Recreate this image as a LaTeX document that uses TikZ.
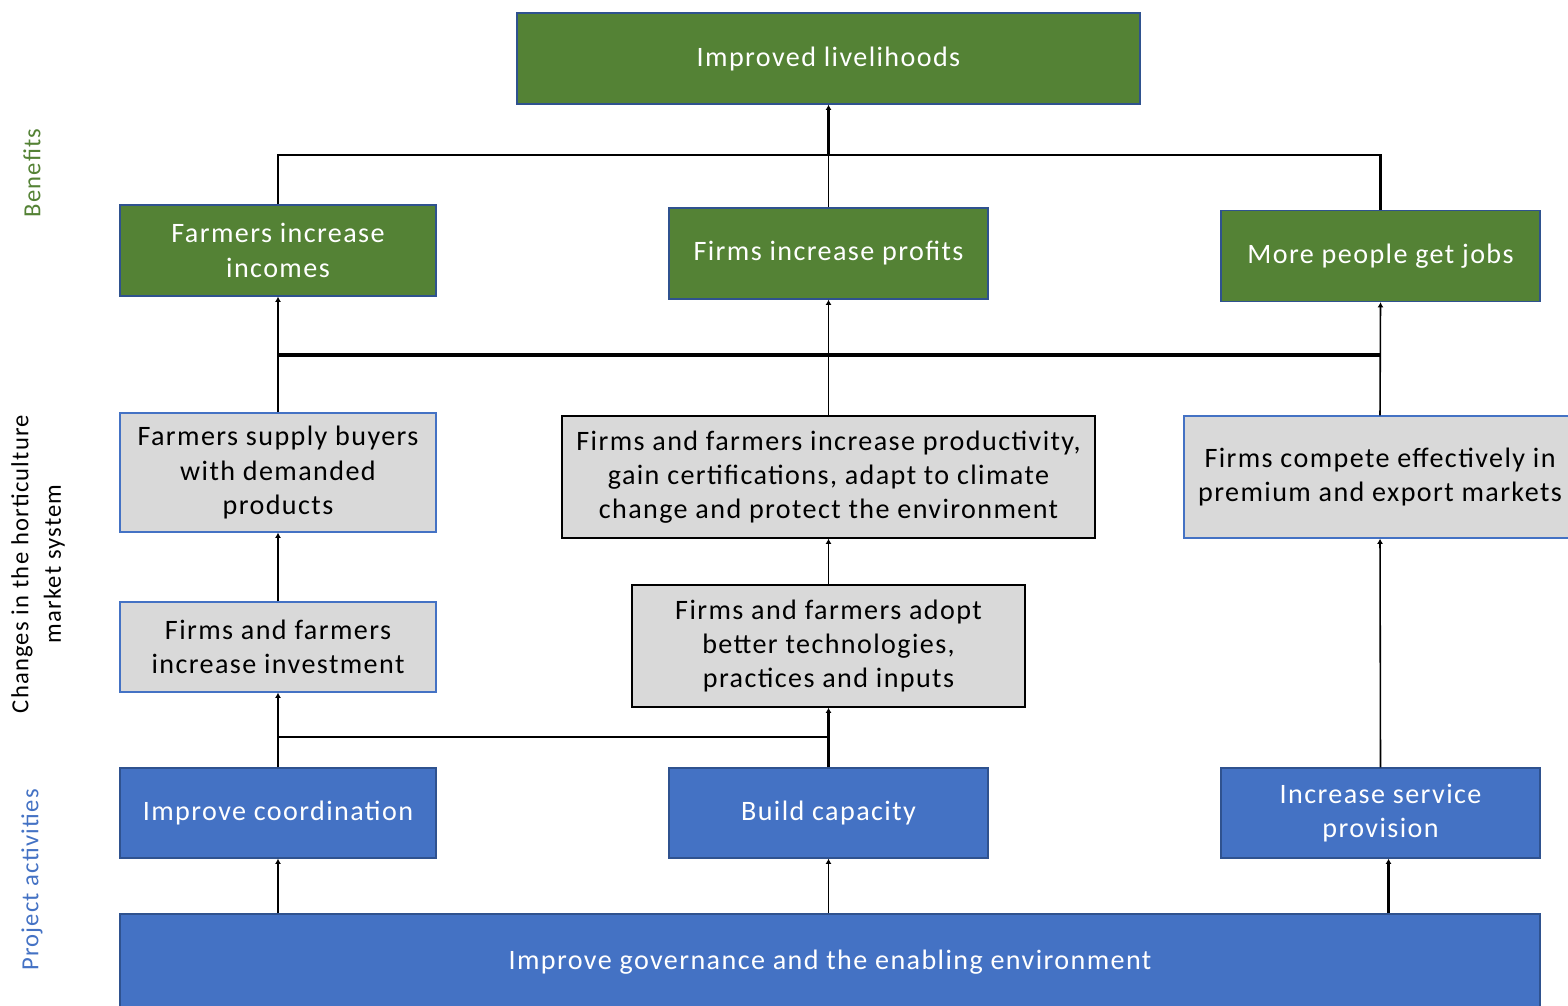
\documentclass[tikz,border=0pt]{standalone}
\usepackage{fontspec}
\setmainfont{Carlito}[LetterSpace=5]
\usepackage{xcolor}
\usetikzlibrary{arrows.meta}

\definecolor{leafgreen}{HTML}{548235}
\definecolor{officeblue}{HTML}{4472C4}
\definecolor{darkblue}{HTML}{2F528F}
\definecolor{lightgray}{HTML}{D9D9D9}

\begin{document}
\begin{tikzpicture}[x=0.02cm, y=-0.02cm,
	every node/.style = {shape=rectangle, align=center, font=\fontsize{16}{19.5}\selectfont, inner sep=2pt},
	benefit/.style = {draw=darkblue, fill=leafgreen, text=white, line width=0.8pt, minimum height=1.82cm},
	change/.style = {draw=officeblue, fill=lightgray, text=black, line width=0.8pt},
	activity/.style = {draw=darkblue, fill=officeblue, text=white, line width=0.8pt, minimum height=1.8cm},
	sidelabel/.style = {rotate=90, draw=none, fill=none, font=\fontsize{14}{18.5}\selectfont},
	link/.style = {draw=black, line width=0.9pt},
	arrow/.style = {link, -{Latex[length=3pt,width=3.5pt]}}]
		\useasboundingbox (0,0) rectangle (1568,1005);

		% benefits
		\node[benefit, minimum width=12.46cm] (livelihoods) at (828.5,58.5) {Improved livelihoods};
		\node[benefit, minimum width=6.32cm] (incomes) at (278,250.5) {Farmers increase\\incomes};
		\node[benefit, minimum width=6.38cm] (profits) at (828.5,253.5) {Firms increase profits};
		\node[benefit, minimum width=6.38cm] (jobs) at (1380.5,256) {More people get jobs};

		% changes in the market system
		\node[change, minimum width=6.32cm, minimum height=2.38cm] (supply) at (278,472.5) {Farmers supply buyers\\with demanded\\products};
		\node[change, draw=black, minimum width=10.66cm, minimum height=2.44cm] (productivity) at (828.5,477) {Firms and farmers increase productivity,\\gain certifications, adapt to climate\\change and protect the environment};
		\node[change, minimum width=7.84cm, minimum height=2.44cm] (compete) at (1380,477) {Firms compete effectively in\\premium and export markets};
		\node[change, minimum width=6.32cm, minimum height=1.8cm] (investment) at (278,647) {Firms and farmers\\increase investment};
		\node[change, draw=black, minimum width=7.86cm, minimum height=2.44cm] (adopt) at (828.5,646) {Firms and farmers adopt\\better technologies,\\practices and inputs};

		% project activities
		\node[activity, minimum width=6.32cm] (coordination) at (278,813) {Improve coordination};
		\node[activity, minimum width=6.38cm] (capacity) at (828.5,813) {Build capacity};
		\node[activity, minimum width=6.38cm] (service) at (1380.5,813) {Increase service\\provision};
		\node[activity, minimum width=28.4cm, minimum height=1.92cm] (governance) at (830,962) {Improve governance and the enabling environment};

		% side labels
		\node[sidelabel, text=leafgreen] (benefits) at (32,173) {Benefits};
		\node[sidelabel, text=black] (changes) at (38,564) {Changes in the horticulture\\market system};
		\node[sidelabel, text=officeblue] (activities) at (32,880) {Project activities};

		% connectors
		\coordinate (topbus) at (828.5,155);
		\coordinate (midbus) at (828.5,355);
		\coordinate (lowbus) at (828.5,737);
		\draw[link, line width=1.4pt] (incomes.north) |- (topbus) -| (jobs.north);
		\draw[link] (profits.north) -- (topbus);
		\draw[arrow, line width=1.8pt] (topbus) -- (livelihoods.south);
		\draw[link, line width=2.4pt] (supply.north |- midbus) -- (compete.north |- midbus);
		\draw[arrow] (supply.north) -- (incomes.south);
		\draw[arrow] (productivity.north) -- (profits.south);
		\draw[arrow] (compete.north) -- (jobs.south);
		\draw[arrow] (investment.north) -- (supply.south);
		\draw[arrow] (adopt.north) -- (productivity.south);
		\draw[arrow] (coordination.north) -- (investment.south);
		\draw[link] (coordination.north |- lowbus) -- (lowbus);
		\draw[arrow, line width=1.3pt] (capacity.north) -- (adopt.south);
		\draw[arrow] (service.north) -- (compete.south);
		\draw[arrow] (coordination.south |- governance.north) -- (coordination.south);
		\draw[arrow] (capacity.south |- governance.north) -- (capacity.south);
		\draw[arrow, line width=1.8pt] ([xshift=0.16cm]service.south |- governance.north) -- ([xshift=0.16cm]service.south);
\end{tikzpicture}
\end{document}
